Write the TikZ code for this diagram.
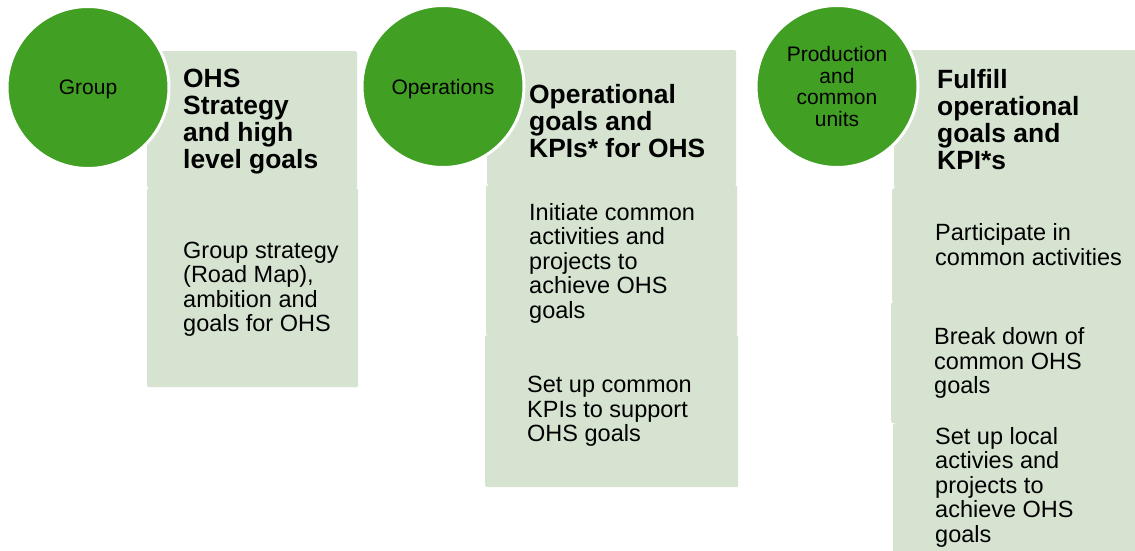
\documentclass[tikz,border=0pt]{standalone}
\usepackage{fontspec}
\setmainfont{Liberation Sans}
\definecolor{ohsgreen}{RGB}{65,160,36}
\definecolor{ohspale}{RGB}{213,227,208}
\begin{document}
\begin{tikzpicture}[x=1pt, y=-1pt,
    unit/.style={circle, fill=ohsgreen, draw=white, line width=3pt, minimum size=162pt, inner sep=0pt, text depth=0pt, align=center, font=\fontsize{21}{21.5}\selectfont},
    panel/.style={anchor=north west, fill=ohspale, rounded corners=2pt, inner sep=0pt},
    head/.style={anchor=west, inner sep=0pt, align=left, font=\bfseries\fontsize{26.4}{27}\selectfont},
    body/.style={anchor=west, inner sep=0pt, align=left, font=\fontsize{23.5}{24.5}\selectfont}]
    \useasboundingbox (0,0) rectangle (1135,551);
    \node [panel, minimum width=210pt, minimum height=137pt] (GroupHead) at (147,51) {};
    \node [panel, minimum width=211pt, minimum height=199pt] (GroupBody) at (147,188) {};
    \node [panel, minimum width=249pt, minimum height=135pt] (OpsHead) at (487,50) {};
    \node [panel, minimum width=251pt, minimum height=150pt] (OpsA) at (486,185) {};
    \node [panel, minimum width=253pt, minimum height=152pt] (OpsB) at (485,335) {};
    \node [panel, minimum width=250pt, minimum height=138pt] (ProdHead) at (894,50) {};
    \node [panel, minimum width=250pt, minimum height=114pt] (ProdA) at (892,188) {};
    \node [panel, minimum width=250pt, minimum height=121pt] (ProdB) at (891,302) {};
    \node [panel, minimum width=250pt, minimum height=140pt] (ProdC) at (893,423) {};
    \node [head] (Strategy) at (183,122) {OHS\\Strategy\\and high\\level goals};
    \node [body] (RoadMap) at (183,289) {Group strategy\\(Road Map),\\ambition and\\goals for OHS};
    \node [head] (OpGoals) at (529,121) {Operational\\goals and\\KPIs* for OHS};
    \node [body] (Initiate) at (529,263) {Initiate common\\activities and\\projects to\\achieve OHS\\goals};
    \node [body] (CommonKPI) at (527,411.5) {Set up common\\KPIs to support\\OHS goals};
    \node [head] (Fulfill) at (937,120) {Fulfill\\operational\\goals and\\KPI*s};
    \node [body] (Participate) at (935,244.5) {Participate in\\common activities};
    \node [body] (BreakDown) at (934,363) {Break down of\\common OHS\\goals};
    \node [body] (LocalAct) at (935,487) {Set up local\\activies and\\projects to\\achieve OHS\\goals};
    \node [unit] (Group) at (88,87.5) {Group};
    \node [unit] (Operations) at (443,86.5) {Operations};
    \node [unit] (Production) at (837,86.5) {Production\\and\\common\\units};
\end{tikzpicture}
\end{document}
